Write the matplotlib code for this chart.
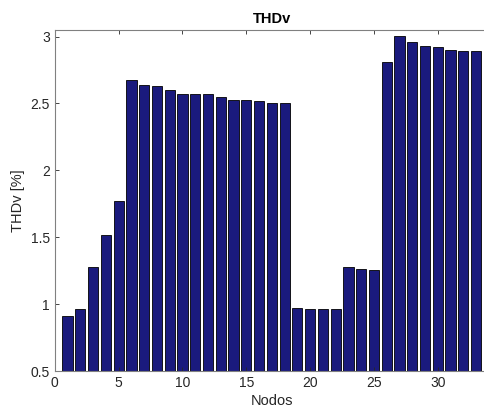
import numpy as np
import matplotlib
matplotlib.use('Agg')
import matplotlib.pyplot as plt

plt.rcParams['font.family'] = ['Liberation Sans', 'DejaVu Sans']

# Nodes and THDv values (%)
nodos = np.arange(1, 34)
thdv = [0.91, 0.966, 1.28, 1.52, 1.77, 2.673, 2.64, 2.628, 2.603, 2.573,
        2.573, 2.573, 2.546, 2.528, 2.523, 2.518, 2.50, 2.50, 0.969, 0.962,
        0.962, 0.962, 1.28, 1.266, 1.258, 2.81, 3.007, 2.962, 2.93, 2.92,
        2.90, 2.895, 2.895]

fig = plt.figure(figsize=(4.85, 4.12), dpi=100)
ax = fig.add_axes([0.113, 0.0995, 0.895, 0.828])

ax.bar(nodos, thdv, width=0.8, color='#1a1a7d', edgecolor='black', linewidth=0.6)

ax.set_xlim(0, 34)
ax.set_ylim(0.5, 3.05)
ax.set_xticks([0, 5, 10, 15, 20, 25, 30])
ax.set_yticks([0.5, 1, 1.5, 2, 2.5, 3])
ax.set_yticklabels(['0.5', '1', '1.5', '2', '2.5', '3'])

ax.tick_params(direction='in', top=True, right=True, labelsize=10,
               colors='#262626', length=3, width=0.6)
for s in ax.spines.values():
    s.set_color('#808080')
    s.set_linewidth(0.8)

ax.set_title('THDv', fontsize=10.5, fontweight='bold', pad=5)
ax.set_xlabel('Nodos', fontsize=10.5, color='#262626', labelpad=3)
ax.set_ylabel('THDv [%]', fontsize=10.5, color='#262626', labelpad=4)

fig.savefig('out.png', dpi=100)
